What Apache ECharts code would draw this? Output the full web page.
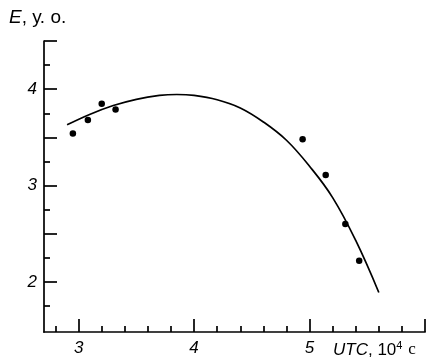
<!DOCTYPE html>
<html>
<head>
<meta charset="utf-8">
<script src="https://cdn.jsdelivr.net/npm/echarts@6/dist/echarts.min.js"></script>
<style>
  html, body { margin: 0; padding: 0; background: #fff; }
  #chart { width: 430px; height: 359px; }
</style>
</head>
<body>
<div id="chart"></div>
<script>
// measured points (UTC, 10^4 s ; E)
const pointX = [2.95, 3.08, 3.20, 3.32, 4.94, 5.14, 5.31, 5.43];
const pointY = [3.54, 3.68, 3.85, 3.79, 3.48, 3.11, 2.60, 2.22];

// fitted curve
const curveX = [2.90, 3.10, 3.30, 3.50, 3.70, 3.85, 4.00, 4.20, 4.40, 4.60, 4.80, 5.00, 5.20, 5.40, 5.60];
const curveY = [3.63, 3.74, 3.83, 3.895, 3.935, 3.945, 3.935, 3.89, 3.805, 3.66, 3.47, 3.20, 2.875, 2.43, 1.89];

// ticks
const xMajorTicks = [3, 4, 5, 6];
const xMinorTicks = [2.8, 3.2, 3.4, 3.6, 3.8, 4.2, 4.4, 4.6, 4.8, 5.2, 5.4, 5.6, 5.8];
const xLabels = [3, 4, 5];
const yMajorTicks = [2, 2.5, 3, 3.5, 4, 4.5];
const yMinorTicks = [1.75, 2.25, 2.75, 3.25, 3.75, 4.25];
const yLabels = [2, 3, 4];

const chart = echarts.init(document.getElementById('chart'));

const font = '"Liberation Sans", Arial, sans-serif';
const lineStyle = { color: '#000', width: 1.7 };

const option = {
  backgroundColor: '#fff',
  animation: false,
  grid: { left: 44, right: 5, top: 41, bottom: 27 },
  xAxis: [
    {
      type: 'value', min: 2.7, max: 6,
      axisLine: { show: true, lineStyle: lineStyle },
      axisTick: { show: true, inside: true, length: 13, lineStyle: lineStyle, customValues: xMajorTicks },
      axisLabel: {
        customValues: xLabels, margin: 8, color: '#000',
        fontFamily: font, fontStyle: 'italic', fontSize: 17
      },
      splitLine: { show: false }
    },
    {
      type: 'value', min: 2.7, max: 6, position: 'bottom',
      axisLine: { show: false },
      axisTick: { show: true, inside: true, length: 6, lineStyle: lineStyle, customValues: xMinorTicks },
      axisLabel: { show: false },
      splitLine: { show: false }
    }
  ],
  yAxis: [
    {
      type: 'value', min: 1.48, max: 4.5,
      axisLine: { show: true, lineStyle: lineStyle },
      axisTick: { show: true, inside: true, length: 13, lineStyle: lineStyle, customValues: yMajorTicks },
      axisLabel: {
        customValues: yLabels, margin: 7, color: '#000',
        fontFamily: font, fontStyle: 'italic', fontSize: 17
      },
      splitLine: { show: false }
    },
    {
      type: 'value', min: 1.48, max: 4.5, position: 'left',
      axisLine: { show: false },
      axisTick: { show: true, inside: true, length: 6, lineStyle: lineStyle, customValues: yMinorTicks },
      axisLabel: { show: false },
      splitLine: { show: false }
    }
  ],
  graphic: [
    {
      type: 'text', left: 9, top: 8,
      style: {
        text: '{i|E}, у. о.',
        fontFamily: font, fontSize: 19, fill: '#000',
        rich: { i: { fontFamily: font, fontStyle: 'italic', fontSize: 19 } }
      }
    },
    {
      type: 'text', left: 333, top: 340,
      style: {
        text: '{i|UTC}, 10{s|4} {c|с}',
        fontFamily: font, fontSize: 17, fill: '#000',
        rich: {
          i: { fontFamily: font, fontStyle: 'italic', fontSize: 17 },
          s: { fontFamily: font, fontSize: 11, padding: [0, 1, 9, 0] },
          c: { fontFamily: '"Liberation Serif", serif', fontSize: 17 }
        }
      }
    }
  ],
  series: [
    {
      type: 'line',
      data: curveX.map((x, i) => [x, curveY[i]]),
      smooth: 0.4,
      showSymbol: false,
      lineStyle: { color: '#000', width: 1.7 }
    },
    {
      type: 'scatter',
      data: pointX.map((x, i) => [x, pointY[i]]),
      symbolSize: 6.5,
      itemStyle: { color: '#000', opacity: 1 }
    }
  ]
};

chart.setOption(option);
</script>
</body>
</html>
